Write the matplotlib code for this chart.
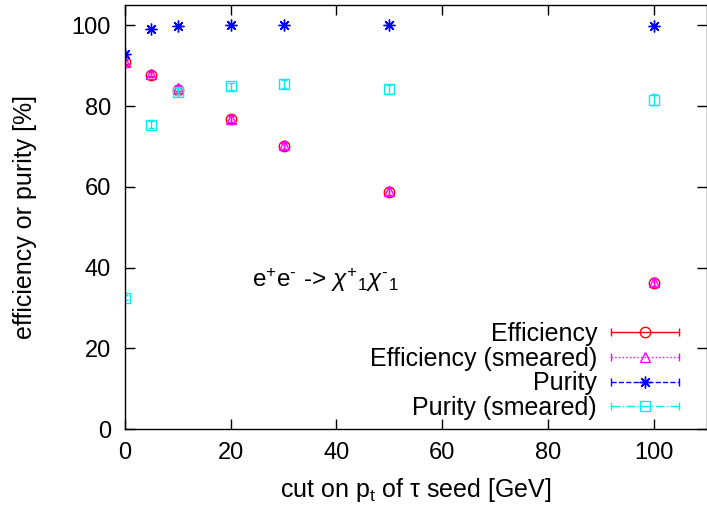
import matplotlib
matplotlib.use("Agg")
import matplotlib.pyplot as plt
from matplotlib.lines import Line2D
from matplotlib.legend_handler import HandlerBase

plt.rcParams['font.family'] = ['Liberation Sans', 'DejaVu Sans']
plt.rcParams['mathtext.fontset'] = 'custom'
plt.rcParams['mathtext.rm'] = 'Liberation Sans'
plt.rcParams['mathtext.it'] = 'Liberation Sans:italic'

# data
cuts = [0, 5, 10, 20, 30, 50, 100]
eff = [90.8, 87.8, 83.9, 76.7, 70.0, 58.6, 36.3]
eff_err = [0.6, 0.6, 0.7, 0.8, 0.9, 1.0, 1.0]
eff_sm = [91.0, 88.0, 84.4, 76.9, 70.3, 58.9, 36.5]
eff_sm_err = [0.6, 0.6, 0.7, 0.8, 0.9, 1.0, 1.0]
pur = [92.8, 99.2, 99.9, 100.0, 100.0, 100.0, 99.9]
pur_err = [0.2, 0.1, 0.1, 0.05, 0.05, 0.05, 0.1]
pur_sm = [32.5, 75.4, 83.6, 84.9, 85.4, 84.1, 81.6]
pur_sm_err = [0.6, 0.8, 0.9, 0.9, 1.0, 1.0, 1.3]

series = [
    ("Efficiency", eff, eff_err, "#ff0000", "o", "-"),
    ("Efficiency (smeared)", eff_sm, eff_sm_err, "#ff00ff", "^", ":"),
    ("Purity", pur, pur_err, "#0000ff", (8, 2, 0), "--"),
    ("Purity (smeared)", pur_sm, pur_sm_err, "#00eeee", "s", "-."),
]


class CapHandler(HandlerBase):
    # gnuplot style key: line with caps at both ends and marker in the middle
    def create_artists(self, legend, orig, xd, yd, w, h, fontsize, trans):
        y = h / 2 - yd
        x0, x1 = -xd, w - xd
        c = orig.get_color()
        line = Line2D([x0, x1], [y, y], color=c, ls=orig.get_linestyle(), lw=1, transform=trans)
        caps = Line2D([x0, x1], [y, y], color=c, ls='none', marker='|', ms=6, mew=1, transform=trans)
        mk = Line2D([(x0 + x1) / 2], [y], color=c, ls='none', marker=orig.get_marker(),
                    ms=orig.get_markersize(), mfc='none', mew=1, transform=trans)
        return [line, caps, mk]


fig = plt.figure(figsize=(7.07, 5.09), dpi=100)
ax = fig.add_axes([0.1768, 0.157, 0.8225, 0.833])

handles = []
for label, vals, errs, col, mk, ls in series:
    ax.errorbar(cuts, vals, yerr=errs, fmt='none', ecolor=col, elinewidth=1, capsize=2)
    ms = 8.5 if mk == (8, 2, 0) else 7.5
    ax.plot(cuts, vals, ls='none', marker=mk, ms=ms, mfc='none', mec=col, mew=1)
    handles.append(Line2D([], [], color=col, ls=ls, marker=mk, ms=ms, label=label))

ax.set_xlim(0, 110)
ax.set_ylim(0, 105)
ax.set_xticks(range(0, 101, 20))
ax.set_yticks(range(0, 101, 20))
ax.tick_params(direction='in', length=7, width=1, top=True, right=True, labelsize=17)
ax.tick_params(axis='x', pad=9)
ax.tick_params(axis='y', pad=10)
for s in ax.spines.values():
    s.set_linewidth(1)

ax.set_xlabel(r"cut on p$_\mathregular{t}$ of τ seed [GeV]", fontsize=18, labelpad=9)
ax.set_ylabel("efficiency or purity [%]", fontsize=18, labelpad=25)

ax.text(24.0, 37.0,
        r"e$^{\text{+}}$e$^{\text{-}}$ -> $\chi^{\text{+}}{}_{\text{1}}\chi^{\text{-}}{}_{\text{1}}$",
        fontsize=17.5, va='center', ha='left')

leg = ax.legend(handles=handles, loc='lower right', bbox_to_anchor=(0.982, -0.02),
                frameon=False, markerfirst=False, fontsize=18, handlelength=2.7,
                handletextpad=0.56, labelspacing=0.03, borderaxespad=0.3,
                handler_map={Line2D: CapHandler()})

fig.savefig("out.png", dpi=100)
